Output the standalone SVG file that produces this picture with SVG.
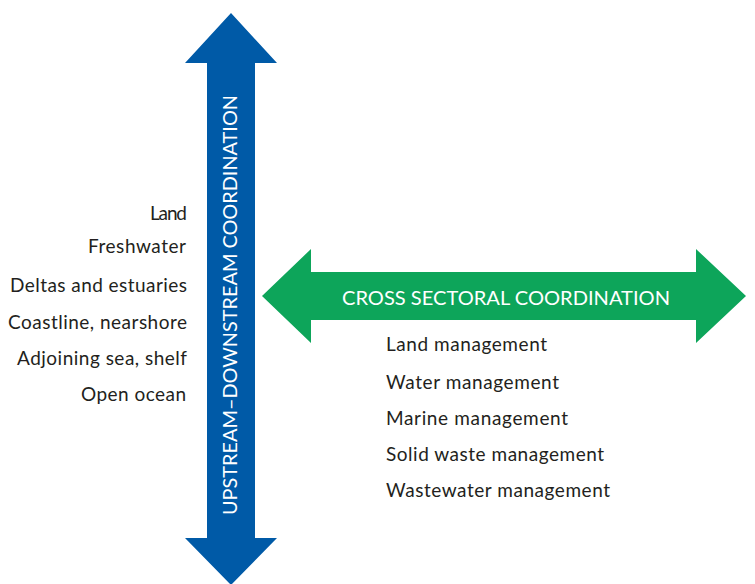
<svg xmlns="http://www.w3.org/2000/svg" width="755" height="584" viewBox="0 0 755 584">
<style>
.lbl{font-family:Lato,"Open Sans","Liberation Sans",sans-serif;font-size:19px;fill:#231f20}
.lft{text-anchor:end}
.arrtxt{font-family:Lato,"Open Sans","Liberation Sans",sans-serif;font-size:19.5px;fill:#ffffff}
</style>
<rect width="755" height="584" fill="#ffffff"/>
<g id="connectors">
<g id="vertical-arrow">
<polygon fill="#005aa7" points="231,13 277,63 255,63 255,538 277,538 231,585 185,538 207,538 207,63 185,63"/>
<text class="arrtxt" transform="translate(237,305) rotate(-90)" text-anchor="middle" textLength="420" lengthAdjust="spacingAndGlyphs" font-size="20.5">UPSTREAM–DOWNSTREAM COORDINATION</text>
</g>
<g id="horizontal-arrow">
<polygon fill="#0da55a" points="262,296 311,249 311,272 696,272 696,249 746,296 696,343 696,320 311,320 311,343"/>
<text class="arrtxt" x="342" y="305" textLength="328" lengthAdjust="spacingAndGlyphs">CROSS SECTORAL COORDINATION</text>
</g>
</g>
<g id="scales">
<text class="lbl lft" x="187" y="220" font-size="15.5" textLength="37">Land</text>
<text class="lbl lft" x="186" y="253" textLength="98">Freshwater</text>
<text class="lbl lft" x="187" y="292" textLength="177">Deltas and estuaries</text>
<text class="lbl lft" x="187" y="329" textLength="179">Coastline, nearshore</text>
<text class="lbl lft" x="187" y="365" textLength="170">Adjoining sea, shelf</text>
<text class="lbl lft" x="186" y="401" textLength="105">Open ocean</text>
</g>
<g id="sectors">
<text class="lbl" x="386" y="351" textLength="161">Land management</text>
<text class="lbl" x="386" y="389" textLength="173">Water management</text>
<text class="lbl" x="386" y="425" textLength="182">Marine management</text>
<text class="lbl" x="386" y="461" textLength="218">Solid waste management</text>
<text class="lbl" x="386" y="497" textLength="224">Wastewater management</text>
</g>
</svg>
